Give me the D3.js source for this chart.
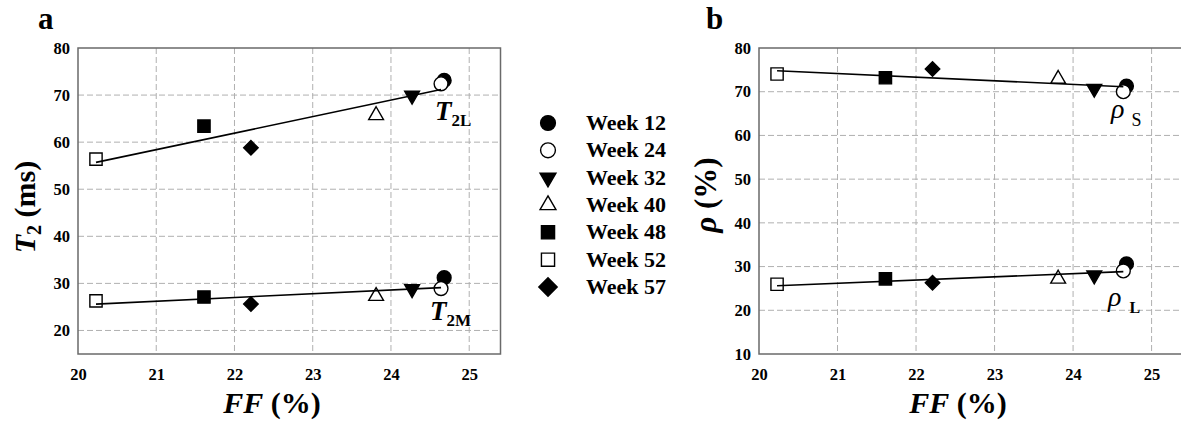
<!DOCTYPE html>
<html>
<head>
<meta charset="utf-8">
<script src="https://cdn.jsdelivr.net/npm/d3@7"></script>
<style>
  html, body { margin: 0; padding: 0; background: #fff; }
  svg { display: block; }
  text { font-family: "Liberation Serif", "Times New Roman", serif; fill: #000; }
</style>
</head>
<body>
<svg id="chart" width="1181" height="428"></svg>
<script>
// Weekly sampling points
const weeks = ["Week 12", "Week 24", "Week 32", "Week 40", "Week 48", "Week 52", "Week 57"];
// Fat fraction FF (%) for each week
const ff = [24.68, 24.64, 24.27, 23.81, 21.61, 20.23, 22.21];
// Panel a: T2 of long (L) and medium (M) components, ms
const t2L = [73.1, 72.4, 69.9, 65.7, 63.4, 56.4, 58.8];
const t2M = [31.2, 28.9, 28.8, 27.3, 27.1, 26.3, 25.6];
// Panel b: proton densities rho_S and rho_L, %
const rhoS = [71.3, 70.0, 70.7, 72.9, 73.2, 74.05, 75.2];
const rhoL = [30.6, 29.0, 28.0, 27.2, 27.2, 25.95, 26.3];
// Linear fit end points [FF, value]
const fitT2L = [[20.23, 55.7], [24.64, 71.2]];
const fitT2M = [[20.23, 25.6], [24.64, 29.1]];
const fitRhoS = [[20.23, 74.8], [24.64, 71.15]];
const fitRhoL = [[20.23, 25.6], [24.64, 28.85]];
// Tick values
const xTicks = [20, 21, 22, 23, 24, 25];
const yTicksA = [20, 30, 40, 50, 60, 70, 80];
const yTicksB = [10, 20, 30, 40, 50, 60, 70, 80];

// Marker style for each week: [symbol, filled, rotation, size]
const markerStyle = [
  { type: d3.symbolCircle, fill: true, rot: 0, size: 150 },
  { type: d3.symbolCircle, fill: false, rot: 0, size: 150 },
  { type: d3.symbolTriangle, fill: true, rot: 180, size: 95 },
  { type: d3.symbolTriangle, fill: false, rot: 0, size: 95 },
  { type: d3.symbolSquare, fill: true, rot: 0, size: 150 },
  { type: d3.symbolSquare, fill: false, rot: 0, size: 150 },
  { type: d3.symbolSquare, fill: true, rot: 45, size: 105 }
];

const svg = d3.select("#chart");
svg.append("rect").attr("width", 1181).attr("height", 428).attr("fill", "#fff");

function panel(opts) {
  const { left, right, top, bottom, yDomain, yTicks } = opts;
  const x = d3.scaleLinear().domain([20, 25.4]).range([left, right]);
  const y = d3.scaleLinear().domain(yDomain).range([bottom, top]);
  const g = svg.append("g");

  // Grid lines
  g.append("g").selectAll("line").data(xTicks.slice(1)).join("line")
    .attr("x1", d => x(d)).attr("x2", d => x(d))
    .attr("y1", top).attr("y2", bottom)
    .attr("stroke", "#b0b0b0").attr("stroke-width", 1).attr("stroke-dasharray", "6,3");
  g.append("g").selectAll("line").data(yTicks.filter(v => v > yDomain[0] && v < yDomain[1])).join("line")
    .attr("x1", left).attr("x2", right)
    .attr("y1", d => y(d)).attr("y2", d => y(d))
    .attr("stroke", "#b0b0b0").attr("stroke-width", 1).attr("stroke-dasharray", "6,3");

  // Frame
  g.append("rect").attr("x", left).attr("y", top)
    .attr("width", right - left).attr("height", bottom - top)
    .attr("fill", "none").attr("stroke", "#6a6a6a").attr("stroke-width", 1.5);

  // Axes (labels only; grid/frame drawn above)
  const xAxis = d3.axisBottom(x).tickValues(xTicks).tickSize(0).tickPadding(14).tickFormat(d3.format("d"));
  const ax = g.append("g").attr("transform", `translate(0,${bottom})`).call(xAxis);
  ax.select(".domain").remove();
  ax.selectAll("text").attr("font-size", 16.5).attr("font-weight", "bold").attr("fill", "#000");

  const yAxis = d3.axisLeft(y).tickValues(yTicks).tickSize(0).tickPadding(8).tickFormat(d3.format("d"));
  const ay = g.append("g").attr("transform", `translate(${left},0)`).call(yAxis);
  ay.select(".domain").remove();
  ay.selectAll("text").attr("font-size", 16.5).attr("font-weight", "bold").attr("fill", "#000");

  const plot = g.append("g");

  function series(values, fit) {
    const s = plot.append("g");
    s.selectAll("path").data(values).join("path")
      .attr("transform", (d, i) => `translate(${x(ff[i])},${y(d)}) rotate(${markerStyle[i].rot})`)
      .attr("d", (d, i) => d3.symbol(markerStyle[i].type, markerStyle[i].size)())
      .attr("fill", (d, i) => markerStyle[i].fill ? "#000" : "#fff")
      .attr("stroke", "#000").attr("stroke-width", 1.4);
    plot.append("path").datum(fit)
      .attr("d", d3.line().x(d => x(d[0])).y(d => y(d[1])))
      .attr("fill", "none").attr("stroke", "#000").attr("stroke-width", 1.6);
  }
  return { x, y, g, series };
}

// ----- Panel a -----
const pa = panel({ left: 78, right: 500.5, top: 48, bottom: 354, yDomain: [15, 80], yTicks: yTicksA });
pa.series(t2L, fitT2L);
pa.series(t2M, fitT2M);

// ----- Panel b -----
const pb = panel({ left: 759, right: 1183, top: 48, bottom: 354, yDomain: [10, 80], yTicks: yTicksB });
pb.series(rhoS, fitRhoS);
pb.series(rhoL, fitRhoL);

// Panel letters
svg.append("text").attr("x", 38).attr("y", 29).attr("font-size", 31).attr("font-weight", "bold").text("a");
svg.append("text").attr("x", 706).attr("y", 29).attr("font-size", 31).attr("font-weight", "bold").text("b");

// X axis titles
function ffTitle(cx) {
  const t = svg.append("text").attr("x", cx).attr("y", 413).attr("text-anchor", "middle")
    .attr("font-size", 30).attr("font-weight", "bold");
  t.append("tspan").attr("font-style", "italic").text("FF");
  t.append("tspan").text(" (%)");
}
ffTitle(272);
ffTitle(958);

// Y axis titles
const tA = svg.append("text").attr("transform", "translate(35,207) rotate(-90)")
  .attr("text-anchor", "middle").attr("font-size", 30).attr("font-weight", "bold");
tA.append("tspan").attr("font-style", "italic").text("T");
tA.append("tspan").attr("font-size", 20).attr("dy", 6).text("2");
tA.append("tspan").attr("dy", -6).text(" (ms)");

const tB = svg.append("text").attr("transform", "translate(716,195) rotate(-90)")
  .attr("text-anchor", "middle").attr("font-size", 31).attr("font-weight", "bold");
tB.append("tspan").attr("font-style", "italic").text("ρ");
tB.append("tspan").text(" (%)");

// Curve labels
function subLabel(px, py, main, sub, mainStyle, subStyle, dx, dy) {
  const t = svg.append("text").attr("x", px).attr("y", py);
  t.append("tspan").attr("font-size", mainStyle.size).attr("font-weight", mainStyle.weight)
    .attr("font-style", "italic").text(main);
  t.append("tspan").attr("font-size", subStyle.size).attr("font-weight", subStyle.weight)
    .attr("dx", dx).attr("dy", dy).text(sub);
}
subLabel(435, 120, "T", "2L", { size: 27, weight: "bold" }, { size: 17, weight: "bold" }, 0, 6);
subLabel(430, 320, "T", "2M", { size: 27, weight: "bold" }, { size: 17, weight: "bold" }, 0, 6);
subLabel(1111, 118, "ρ", "S", { size: 28, weight: "normal" }, { size: 18, weight: "normal" }, 7, 8);
subLabel(1108, 306, "ρ", "L", { size: 28, weight: "normal" }, { size: 16, weight: "bold" }, 8, 7);

// Legend
const legend = svg.append("g");
const rowY = d3.scalePoint().domain(weeks).range([123, 287]);
weeks.forEach((w, i) => {
  const m = markerStyle[i];
  legend.append("path")
    .attr("transform", `translate(548,${rowY(w)}) rotate(${m.rot})`)
    .attr("d", d3.symbol(m.type, m.size * (m.rot === 45 ? 1.6 : 1.15))())
    .attr("fill", m.fill ? "#000" : "#fff").attr("stroke", "#000").attr("stroke-width", 1.4);
  legend.append("text").attr("x", 586).attr("y", rowY(w) + 7)
    .attr("font-size", 22).attr("font-weight", "bold").text(w);
});
</script>
</body>
</html>
